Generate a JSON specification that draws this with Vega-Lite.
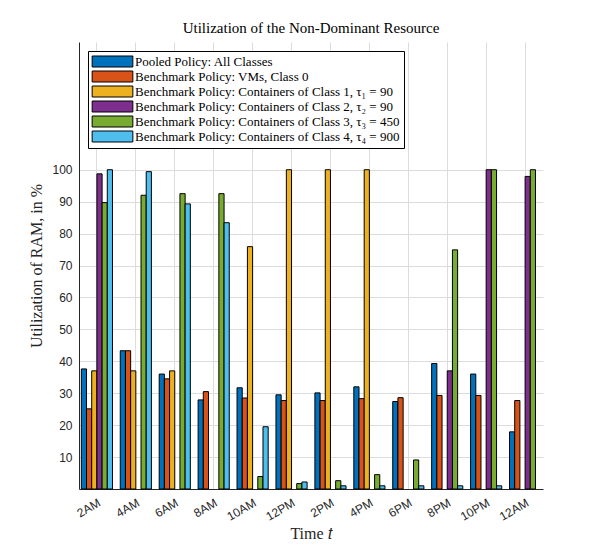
{
  "$schema": "https://vega.github.io/schema/vega-lite/v6.json",
  "autosize": {"type": "none"},
  "width": 464,
  "height": 447,
  "padding": {"left": 79, "top": 42, "right": 57, "bottom": 61},
  "background": "white",
  "title": {
    "text": "Utilization of the Non-Dominant Resource",
    "font": "Liberation Serif",
    "fontSize": 15,
    "fontWeight": "normal",
    "color": "#000000",
    "anchor": "middle",
    "offset": 6
  },
  "config": {
    "view": {"stroke": null},
    "axis": {
      "labelFont": "Liberation Sans",
      "labelFontSize": 12,
      "labelColor": "#262626",
      "titleFont": "Liberation Serif",
      "titleFontSize": 16,
      "titleFontWeight": "normal",
      "titleColor": "#262626",
      "domainColor": "#262626",
      "gridColor": "#dcdcdc",
      "ticks": false
    }
  },
  "data": {
    "values": [
      {"time": "2AM", "series": "Pooled Policy: All Classes", "value": 37.6},
      {"time": "2AM", "series": "Benchmark Policy: VMs, Class 0", "value": 25.1},
      {"time": "2AM", "series": "Benchmark Policy: Containers of Class 1, τ₁ = 90", "value": 37.0},
      {"time": "2AM", "series": "Benchmark Policy: Containers of Class 2, τ₂ = 90", "value": 98.7},
      {"time": "2AM", "series": "Benchmark Policy: Containers of Class 3, τ₃ = 450", "value": 89.7},
      {"time": "2AM", "series": "Benchmark Policy: Containers of Class 4, τ₄ = 900", "value": 100},
      {"time": "4AM", "series": "Pooled Policy: All Classes", "value": 43.3},
      {"time": "4AM", "series": "Benchmark Policy: VMs, Class 0", "value": 43.3},
      {"time": "4AM", "series": "Benchmark Policy: Containers of Class 1, τ₁ = 90", "value": 37.0},
      {"time": "4AM", "series": "Benchmark Policy: Containers of Class 3, τ₃ = 450", "value": 92.0},
      {"time": "4AM", "series": "Benchmark Policy: Containers of Class 4, τ₄ = 900", "value": 99.4},
      {"time": "6AM", "series": "Pooled Policy: All Classes", "value": 36.0},
      {"time": "6AM", "series": "Benchmark Policy: VMs, Class 0", "value": 34.5},
      {"time": "6AM", "series": "Benchmark Policy: Containers of Class 1, τ₁ = 90", "value": 37.0},
      {"time": "6AM", "series": "Benchmark Policy: Containers of Class 3, τ₃ = 450", "value": 92.5},
      {"time": "6AM", "series": "Benchmark Policy: Containers of Class 4, τ₄ = 900", "value": 89.3},
      {"time": "8AM", "series": "Pooled Policy: All Classes", "value": 27.9},
      {"time": "8AM", "series": "Benchmark Policy: VMs, Class 0", "value": 30.5},
      {"time": "8AM", "series": "Benchmark Policy: Containers of Class 3, τ₃ = 450", "value": 92.5},
      {"time": "8AM", "series": "Benchmark Policy: Containers of Class 4, τ₄ = 900", "value": 83.4},
      {"time": "10AM", "series": "Pooled Policy: All Classes", "value": 31.7},
      {"time": "10AM", "series": "Benchmark Policy: VMs, Class 0", "value": 28.5},
      {"time": "10AM", "series": "Benchmark Policy: Containers of Class 1, τ₁ = 90", "value": 75.9},
      {"time": "10AM", "series": "Benchmark Policy: Containers of Class 3, τ₃ = 450", "value": 3.9},
      {"time": "10AM", "series": "Benchmark Policy: Containers of Class 4, τ₄ = 900", "value": 19.5},
      {"time": "12PM", "series": "Pooled Policy: All Classes", "value": 29.5},
      {"time": "12PM", "series": "Benchmark Policy: VMs, Class 0", "value": 27.7},
      {"time": "12PM", "series": "Benchmark Policy: Containers of Class 1, τ₁ = 90", "value": 100},
      {"time": "12PM", "series": "Benchmark Policy: Containers of Class 3, τ₃ = 450", "value": 1.7},
      {"time": "12PM", "series": "Benchmark Policy: Containers of Class 4, τ₄ = 900", "value": 2.2},
      {"time": "2PM", "series": "Pooled Policy: All Classes", "value": 30.1},
      {"time": "2PM", "series": "Benchmark Policy: VMs, Class 0", "value": 27.7},
      {"time": "2PM", "series": "Benchmark Policy: Containers of Class 1, τ₁ = 90", "value": 100},
      {"time": "2PM", "series": "Benchmark Policy: Containers of Class 3, τ₃ = 450", "value": 2.6},
      {"time": "2PM", "series": "Benchmark Policy: Containers of Class 4, τ₄ = 900", "value": 1.0},
      {"time": "4PM", "series": "Pooled Policy: All Classes", "value": 32.0},
      {"time": "4PM", "series": "Benchmark Policy: VMs, Class 0", "value": 28.3},
      {"time": "4PM", "series": "Benchmark Policy: Containers of Class 1, τ₁ = 90", "value": 100},
      {"time": "4PM", "series": "Benchmark Policy: Containers of Class 3, τ₃ = 450", "value": 4.5},
      {"time": "4PM", "series": "Benchmark Policy: Containers of Class 4, τ₄ = 900", "value": 1.0},
      {"time": "6PM", "series": "Pooled Policy: All Classes", "value": 27.4},
      {"time": "6PM", "series": "Benchmark Policy: VMs, Class 0", "value": 28.6},
      {"time": "6PM", "series": "Benchmark Policy: Containers of Class 3, τ₃ = 450", "value": 9.1},
      {"time": "6PM", "series": "Benchmark Policy: Containers of Class 4, τ₄ = 900", "value": 1.0},
      {"time": "8PM", "series": "Pooled Policy: All Classes", "value": 39.3},
      {"time": "8PM", "series": "Benchmark Policy: VMs, Class 0", "value": 29.3},
      {"time": "8PM", "series": "Benchmark Policy: Containers of Class 2, τ₂ = 90", "value": 37.0},
      {"time": "8PM", "series": "Benchmark Policy: Containers of Class 3, τ₃ = 450", "value": 74.9},
      {"time": "8PM", "series": "Benchmark Policy: Containers of Class 4, τ₄ = 900", "value": 1.0},
      {"time": "10PM", "series": "Pooled Policy: All Classes", "value": 36.0},
      {"time": "10PM", "series": "Benchmark Policy: VMs, Class 0", "value": 29.3},
      {"time": "10PM", "series": "Benchmark Policy: Containers of Class 2, τ₂ = 90", "value": 100},
      {"time": "10PM", "series": "Benchmark Policy: Containers of Class 3, τ₃ = 450", "value": 100},
      {"time": "10PM", "series": "Benchmark Policy: Containers of Class 4, τ₄ = 900", "value": 1.0},
      {"time": "12AM", "series": "Pooled Policy: All Classes", "value": 17.9},
      {"time": "12AM", "series": "Benchmark Policy: VMs, Class 0", "value": 27.7},
      {"time": "12AM", "series": "Benchmark Policy: Containers of Class 2, τ₂ = 90", "value": 97.9},
      {"time": "12AM", "series": "Benchmark Policy: Containers of Class 3, τ₃ = 450", "value": 100}
    ]
  },
  "mark": {"type": "bar", "stroke": "#000000", "strokeWidth": 1},
  "encoding": {
    "x": {
      "field": "time",
      "type": "nominal",
      "sort": ["2AM", "4AM", "6AM", "8AM", "10AM", "12PM", "2PM", "4PM", "6PM", "8PM", "10PM", "12AM"],
      "scale": {"paddingInner": 0.2, "paddingOuter": 0.06},
      "title": "Time 𝑡",
      "axis": {
        "labelAngle": -30,
        "labelPadding": 8,
        "titlePadding": 3,
        "grid": true,
        "bandPosition": 0.5
      }
    },
    "xOffset": {
      "field": "series",
      "type": "nominal",
      "scale": {
        "domain": [
          "Pooled Policy: All Classes",
          "Benchmark Policy: VMs, Class 0",
          "Benchmark Policy: Containers of Class 1, τ₁ = 90",
          "Benchmark Policy: Containers of Class 2, τ₂ = 90",
          "Benchmark Policy: Containers of Class 3, τ₃ = 450",
          "Benchmark Policy: Containers of Class 4, τ₄ = 900"
        ],
        "paddingInner": 0,
        "paddingOuter": 0
      }
    },
    "y": {
      "field": "value",
      "type": "quantitative",
      "scale": {"domain": [0, 140], "nice": false},
      "title": "Utilization of RAM, in %",
      "axis": {
        "values": [10, 20, 30, 40, 50, 60, 70, 80, 90, 100],
        "labelPadding": 7,
        "titlePadding": 7,
        "grid": true
      }
    },
    "color": {
      "field": "series",
      "type": "nominal",
      "scale": {
        "domain": [
          "Pooled Policy: All Classes",
          "Benchmark Policy: VMs, Class 0",
          "Benchmark Policy: Containers of Class 1, τ₁ = 90",
          "Benchmark Policy: Containers of Class 2, τ₂ = 90",
          "Benchmark Policy: Containers of Class 3, τ₃ = 450",
          "Benchmark Policy: Containers of Class 4, τ₄ = 900"
        ],
        "range": ["#0072BD", "#D95319", "#EDB120", "#7E2F8E", "#77AC30", "#4DBEEE"]
      },
      "legend": {
        "title": null,
        "orient": "none",
        "legendX": 9,
        "legendY": 9,
        "direction": "vertical",
        "symbolType": "M-3.7,-1L3.7,-1L3.7,1L-3.7,1Z",
        "symbolSize": 121,
        "symbolOffset": 14,
        "symbolStrokeColor": "#000000",
        "symbolStrokeWidth": 1,
        "symbolOpacity": 1,
        "labelFont": "Liberation Serif",
        "labelFontSize": 13,
        "labelColor": "#000000",
        "labelOffset": 16,
        "labelLimit": 400,
        "rowPadding": 0,
        "padding": 4,
        "strokeColor": "#000000",
        "fillColor": "#ffffff",
        "cornerRadius": 0
      }
    }
  }
}
